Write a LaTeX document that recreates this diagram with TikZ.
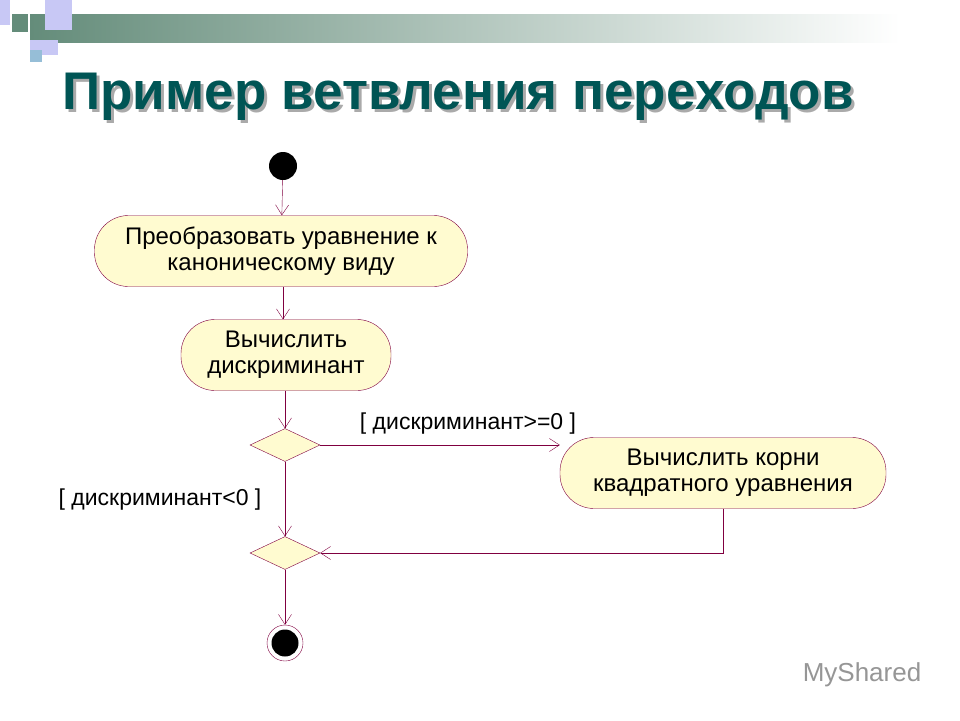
\documentclass[tikz,border=0pt]{standalone}
\usepackage{fontspec}
\setmainfont{Liberation Sans}
\usetikzlibrary{shapes.geometric,arrows.meta}
\definecolor{ln}{RGB}{128,0,64}
\definecolor{fl}{RGB}{255,251,208}
\definecolor{tt}{RGB}{0,85,85}
\definecolor{bar}{RGB}{100,140,122}
\definecolor{lav}{RGB}{200,200,245}
\definecolor{blu}{RGB}{150,190,215}
\definecolor{shd}{RGB}{170,170,170}
\definecolor{wm}{RGB}{150,150,150}
\begin{document}
\begin{tikzpicture}[x=1pt,y=-1pt,
  act/.style={draw=ln,fill=fl,rounded corners=34pt,minimum height=71pt,align=center,font=\fontsize{24}{26}\selectfont,inner sep=0pt},
  dec/.style={diamond,draw=ln,fill=fl,minimum width=70pt,minimum height=33pt,inner sep=0pt},
  flow/.style={draw=ln,-{Straight Barb[length=10pt,width=13pt]}},
  lbl/.style={font=\fontsize{23}{26}\selectfont}]
\useasboundingbox (0,0) rectangle (960,720);
\fill[white] (0,0) rectangle (960,720);
\shade[left color=bar,right color=white] (30,14) rectangle (900,42);
\fill[white] (900,14) rectangle (960,42);
\fill[lav] (0,0) rectangle (10,25);
\fill[lav] (45,0) rectangle (72,30);
\fill[lav] (30,40) rectangle (58,55);
\fill[blu] (30,50) rectangle (42,62);
\fill[bar] (12,14) rectangle (28,32);
\node[font=\bfseries\fontsize{53}{58}\selectfont,text=shd] at (461,100) {Пример ветвления переходов};
\node (title) [font=\bfseries\fontsize{53}{58}\selectfont,text=tt] at (458,97) {Пример ветвления переходов};
\node (start) [circle,fill=black,minimum size=28pt,inner sep=0pt] at (283,166) {};
\node (a1) [act,minimum width=373pt] at (281,251) {Преобразовать уравнение к\\каноническому виду};
\node (a2) [act,minimum width=210pt] at (286,355) {Вычислить\\дискриминант};
\node (d1) [dec] at (285,445) {};
\node (a3) [act,minimum width=326pt] at (723,473) {Вычислить корни\\квадратного уравнения};
\node (d2) [dec] at (285,553) {};
\node (end) [circle,draw=ln,fill=white,minimum size=36pt,inner sep=0pt] at (285,643) {};
\node[circle,fill=black,minimum size=27pt,inner sep=0pt] at (end) {};
\coordinate (c1) at (a3.south |- d2);
\draw[flow] (start) -- (a1);
\draw[flow] (a1.south -| start) -- (a2.north -| start);
\draw[flow] (a2.south -| d1) -- (d1.north);
\draw[flow] (d1.east) -- (a3.west |- d1.east);
\draw[flow] (d1.south) -- (d2.north);
\draw[flow] (a3.south) -- (c1) -- (d2.east);
\draw[flow] (d2.south) -- (end.north);
\node (g1) [lbl] at (468,424) {[ дискриминант>=0 ]};
\node (g2) [lbl] at (160,500) {[ дискриминант<0 ]};
\node (ms) [font=\fontsize{26}{28}\selectfont,text=wm] at (862,675) {MyShared};
\end{tikzpicture}
\end{document}
